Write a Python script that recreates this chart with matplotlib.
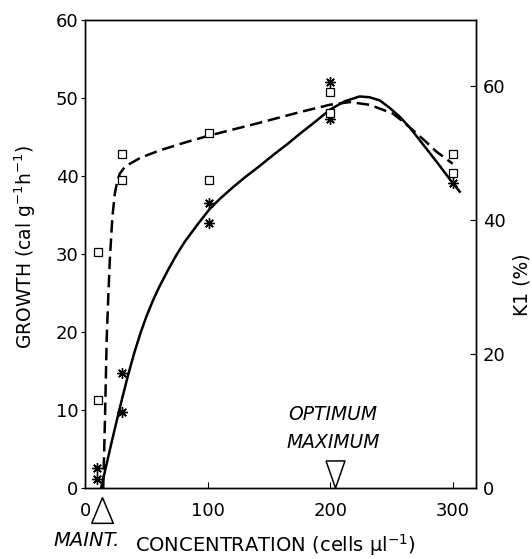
import matplotlib
matplotlib.use("Agg")
import matplotlib.pyplot as plt

plt.rcParams['font.family'] = ['DejaVu Sans']
plt.rcParams['mathtext.fontset'] = 'dejavusans'

# Growth data (asterisks, left axis)
growth_x = [9, 9, 30, 30, 101, 101, 200, 200, 300]
growth_y = [2.6, 1.1, 14.7, 9.7, 36.5, 34.0, 52.1, 47.3, 39.1]
# Growth fitted curve (solid)
growth_fit_x = [12.7, 17, 21.4, 25, 29.5, 35, 40, 45, 50, 55, 60, 67.6, 74, 81.2, 92.1, 101.6, 110, 120, 130, 142.4, 155, 165, 175, 188, 199.6, 212, 224, 232, 240.4, 248, 256.7, 265, 273, 281, 289.4, 299, 305.7]
growth_fit_y = [0, 2.9, 5.9, 8.3, 11.2, 14.6, 17.4, 19.9, 22.1, 24.0, 25.7, 28.0, 29.8, 31.6, 33.9, 35.8, 37.1, 38.5, 39.8, 41.3, 42.9, 44.1, 45.4, 47.0, 48.5, 49.6, 50.2, 50.1, 49.7, 48.8, 47.6, 46.2, 44.6, 43.0, 41.3, 39.3, 38.0]

# K1 data (squares, right axis)
k1_x = [10.5, 10.5, 30, 30, 101, 101, 200, 200, 300, 300]
k1_y = [13.2, 35.2, 49.8, 46.0, 53.0, 46.0, 59.1, 56.0, 49.9, 47.0]
# K1 fitted curve (dashed)
k1_fit_x = [14.5, 16.0, 17.3, 18.7, 20.0, 22.0, 24.0, 26.0, 28.0, 32.0, 36.3, 45, 60.8, 80, 101, 142, 175, 199.6, 216, 232, 251, 260, 270, 278, 286.7, 300]
k1_fit_y = [0, 11.0, 22.1, 29.0, 34.5, 40.5, 44.0, 45.8, 46.9, 47.9, 48.4, 49.3, 50.4, 51.5, 52.6, 54.5, 56.1, 57.2, 57.6, 57.2, 55.9, 54.6, 53.0, 51.7, 50.2, 48.4]

maint_x = [13.5]
optimum_x = [204]

fig = plt.figure(figsize=(5.32, 5.59), dpi=100)
ax = fig.add_axes([0.1607, 0.127, 0.734, 0.8372])
ax2 = ax.twinx()

ax.set_xlim(0, 319)
ax.set_ylim(0, 60)
ax2.set_ylim(0, 69.85)

ax.plot(growth_fit_x, growth_fit_y, '-', color='black', lw=1.8, solid_joinstyle='round')
ax.plot(growth_x, growth_y, linestyle='none', marker=(8, 2, 0), ms=7.5, mew=1.0, color='black')

ax2.plot(k1_fit_x, k1_fit_y, color='black', lw=1.8, dashes=(5.0, 2.3))
ax2.plot(k1_x, k1_y, linestyle='none', marker='s', ms=6, mfc='white', mec='black', mew=0.9)

# arrows (open triangles)
tri_up = [(-0.42, -0.5), (0.42, -0.5), (0, 0.5), (-0.42, -0.5)]
tri_dn = [(-0.35, 0.5), (0.35, 0.5), (0, -0.5), (-0.35, 0.5)]
ax.plot(maint_x, [-2.8], linestyle='none', marker=tri_up, ms=18.5, mfc='white', mec='black', mew=1.1, clip_on=False)
ax.plot(optimum_x, [1.8], linestyle='none', marker=tri_dn, ms=19.5, mfc='white', mec='black', mew=1.1, clip_on=False)

ax.text(202, 9.4, 'OPTIMUM', style='italic', fontsize=13.5, ha='center', va='center')
ax.text(202, 5.8, 'MAXIMUM', style='italic', fontsize=13.5, ha='center', va='center')

ax.set_xticks([0, 100, 200, 300])
ax.set_yticks([0, 10, 20, 30, 40, 50, 60])
ax2.set_yticks([0, 20, 40, 60])
ax.tick_params(axis='y', direction='out', length=3, labelsize=13, pad=2)
ax.tick_params(axis='x', direction='in', length=4, labelsize=13, pad=10)
ax2.tick_params(axis='y', direction='in', length=4, labelsize=13, pad=5)

fig.text(25 / 532, 1 - 247 / 559, r'GROWTH (cal g$^{-1}$h$^{-1}$)', fontsize=13.5,
         rotation=90, ha='center', va='center')
fig.text(522 / 532, 1 - 285 / 559, 'K1 (%)', fontsize=13.5, rotation=90, ha='center', va='center')

fig.text(53 / 532, 1 - 540 / 559, 'MAINT.', style='italic', fontsize=14, ha='left', va='center')
fig.text(135 / 532, 1 - 545 / 559, r'CONCENTRATION (cells µl$^{-1}$)', fontsize=14, ha='left', va='center')

for a in (ax, ax2):
    for s in a.spines.values():
        s.set_linewidth(1.0)

fig.savefig('out.png', dpi=100)
